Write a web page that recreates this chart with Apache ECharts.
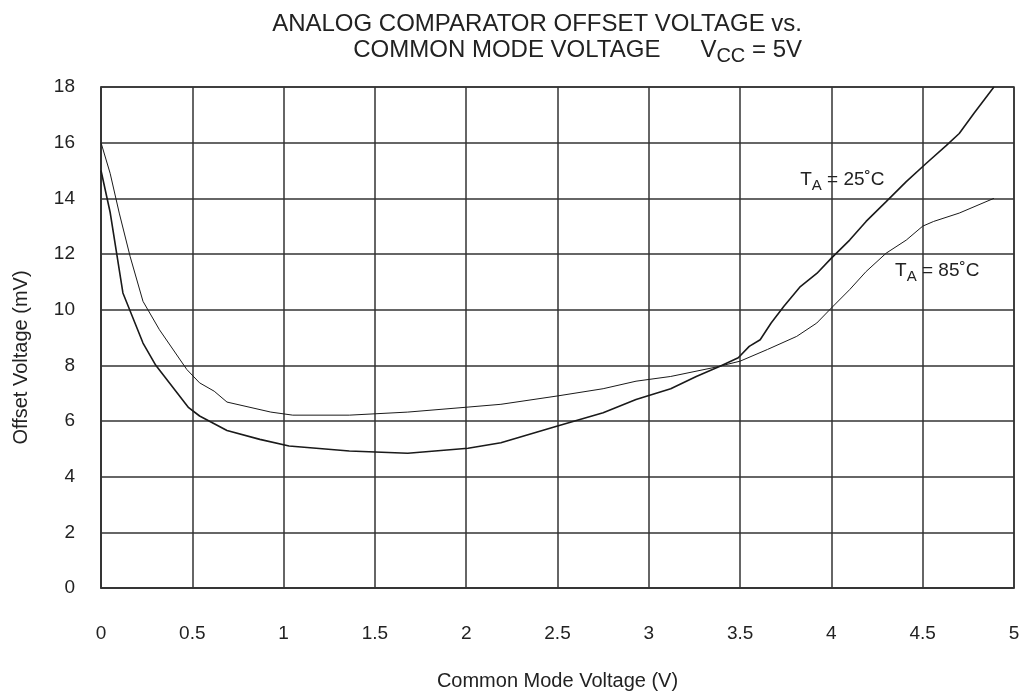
<!DOCTYPE html>
<html>
<head>
<meta charset="utf-8">
<script src="https://cdn.jsdelivr.net/npm/echarts@6/dist/echarts.min.js"></script>
<style>
  html, body { margin: 0; padding: 0; background: #fff; }
  #chart { width: 1033px; height: 696px; }
</style>
</head>
<body>
<div id="chart"></div>
<script>
// x ticks and y ticks
const xTicks = [0, 0.5, 1, 1.5, 2, 2.5, 3, 3.5, 4, 4.5, 5]
const yTicks = [0, 2, 4, 6, 8, 10, 12, 14, 16, 18]

// TA = 25C curve
const voltage25 = [0, 0.05, 0.12, 0.23, 0.30, 0.48, 0.54, 0.69, 0.87, 1.03, 1.36, 1.68, 2.01, 2.19, 2.50, 2.75, 2.93, 3.12, 3.26, 3.39, 3.49, 3.55, 3.61, 3.67, 3.74, 3.83, 3.92, 4.00, 4.10, 4.19, 4.30, 4.41, 4.52, 4.63, 4.70, 4.78, 4.89]
const offset25 = [15.0, 13.5, 10.6, 8.8, 8.0, 6.48, 6.18, 5.66, 5.34, 5.1, 4.92, 4.84, 5.02, 5.22, 5.82, 6.3, 6.77, 7.16, 7.6, 7.97, 8.27, 8.68, 8.92, 9.52, 10.12, 10.83, 11.3, 11.85, 12.5, 13.17, 13.88, 14.6, 15.26, 15.9, 16.33, 17.05, 18.0]

// TA = 85C curve
const voltage85 = [0, 0.05, 0.10, 0.16, 0.23, 0.32, 0.47, 0.54, 0.62, 0.69, 0.93, 1.05, 1.36, 1.68, 2.01, 2.19, 2.50, 2.75, 2.93, 3.12, 3.37, 3.50, 3.65, 3.81, 3.92, 4.00, 4.10, 4.19, 4.30, 4.41, 4.50, 4.56, 4.70, 4.89]
const offset85 = [16.0, 14.9, 13.47, 11.9, 10.3, 9.28, 7.85, 7.37, 7.07, 6.68, 6.32, 6.21, 6.21, 6.32, 6.5, 6.6, 6.9, 7.16, 7.43, 7.6, 7.94, 8.15, 8.57, 9.04, 9.52, 10.06, 10.72, 11.37, 12.03, 12.5, 13.0, 13.17, 13.47, 14.0]

// curve labels: text and where they sit (data coords)
const labelNames = ['T{sub|A} = 25˚C', 'T{sub|A} = 85˚C']
const labelAt = [[4.06, 14.66], [4.58, 11.4]]

const FONT = 'Liberation Sans, Arial, sans-serif'
const INK = '#222'
const GRIDC = '#333'

const pairs = (xs, ys) => xs.map((x, i) => [x, ys[i]])

const curveLabel = (i) => ({
  symbol: 'circle',
  symbolSize: 0,
  data: [{
    coord: labelAt[i],
    label: {
      show: true,
      position: 'inside',
      formatter: labelNames[i],
      color: INK,
      fontFamily: FONT,
      fontSize: 19,
      rich: { sub: { fontSize: 15, fontFamily: FONT, color: INK, padding: [12, 0, 0, 0] } }
    }
  }]
})

const option = {
  animation: false,
  backgroundColor: '#fff',
  title: {
    text: 'ANALOG COMPARATOR OFFSET VOLTAGE vs.\nCOMMON MODE VOLTAGE      V{sub|CC} = 5V',
    left: 797,
    top: 6,
    textAlign: 'right',
    textStyle: {
      fontFamily: FONT,
      fontSize: 24,
      fontWeight: 'normal',
      color: INK,
      lineHeight: 26,
      rich: { sub: { fontFamily: FONT, fontSize: 20, color: INK, padding: [12, 0, 0, 0] } }
    }
  },
  grid: { left: 101, top: 87, right: 19, bottom: 107, show: true, borderColor: GRIDC, borderWidth: 1.5 },
  xAxis: {
    type: 'value',
    min: xTicks[0],
    max: xTicks[xTicks.length - 1],
    interval: 0.5,
    name: 'Common Mode Voltage (V)',
    nameLocation: 'middle',
    nameGap: 83,
    nameTextStyle: { fontFamily: FONT, fontSize: 20, color: INK },
    axisLine: { show: true, lineStyle: { color: GRIDC, width: 1.5 } },
    axisTick: { show: false },
    axisLabel: { margin: 36, fontFamily: FONT, fontSize: 19, color: INK },
    splitLine: { show: true, lineStyle: { color: GRIDC, width: 1.5 } }
  },
  yAxis: {
    type: 'value',
    min: yTicks[0],
    max: yTicks[yTicks.length - 1],
    interval: 2,
    name: 'Offset Voltage (mV)',
    nameLocation: 'middle',
    nameGap: 70,
    nameTextStyle: { fontFamily: FONT, fontSize: 20, color: INK, padding: [0, 40, 0, 0] },
    axisLine: { show: true, lineStyle: { color: GRIDC, width: 1.5 } },
    axisTick: { show: false },
    axisLabel: { margin: 26, fontFamily: FONT, fontSize: 19, color: INK },
    splitLine: { show: true, lineStyle: { color: GRIDC, width: 1.5 } }
  },
  series: [
    {
      name: 'TA = 25C',
      type: 'line',
      data: pairs(voltage25, offset25),
      showSymbol: false,
      smooth: false,
      lineStyle: { color: '#1a1a1a', width: 1.6 },
      markPoint: curveLabel(0)
    },
    {
      name: 'TA = 85C',
      type: 'line',
      data: pairs(voltage85, offset85),
      showSymbol: false,
      smooth: false,
      lineStyle: { color: '#1a1a1a', width: 1 },
      markPoint: curveLabel(1)
    }
  ]
}

const box = echarts.init(document.getElementById('chart'))
box.setOption(option)
</script>
</body>
</html>
